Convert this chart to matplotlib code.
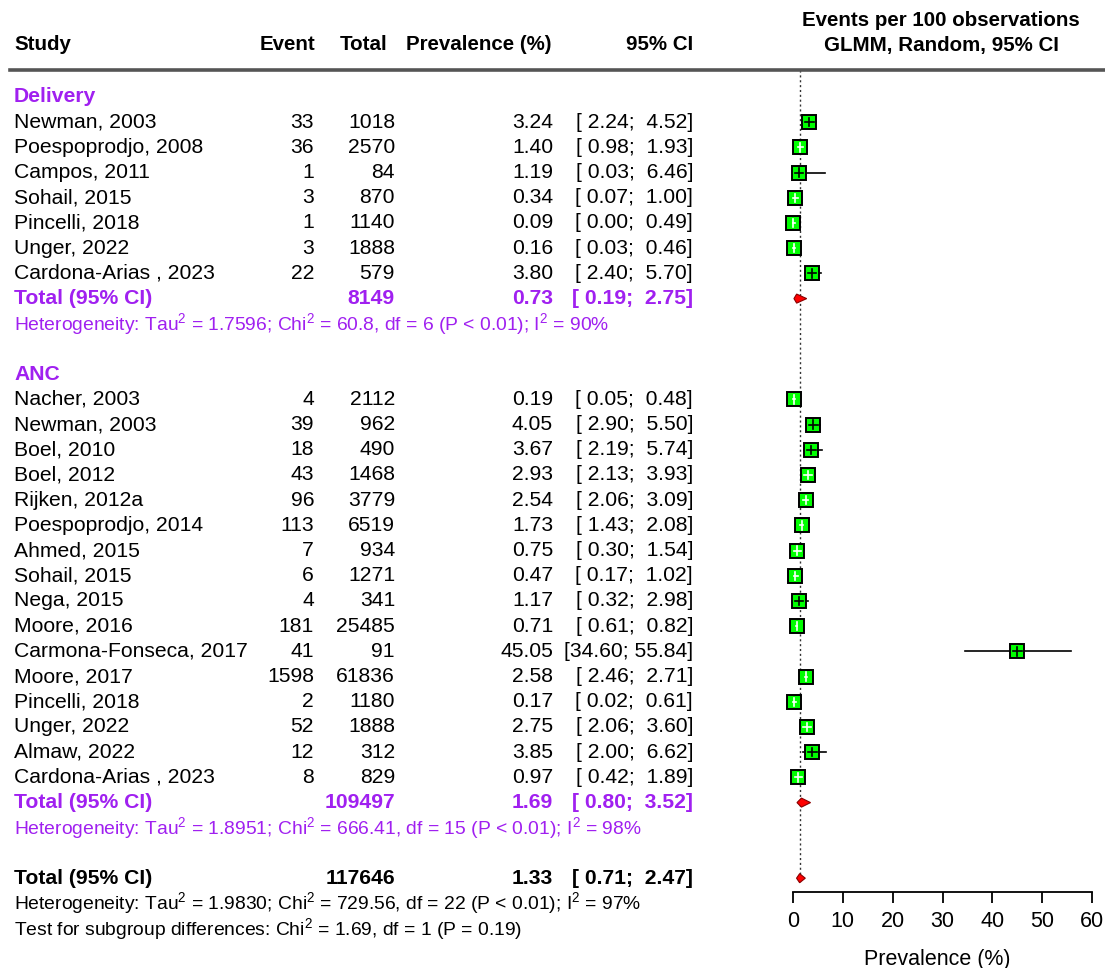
import matplotlib
matplotlib.use("Agg")
import matplotlib.pyplot as plt
import matplotlib.transforms as mtransforms

plt.rcParams['font.family'] = ['Liberation Sans', 'DejaVu Sans']
plt.rcParams['mathtext.default'] = 'regular'

# data
delivery_study = ['Newman, 2003', 'Poespoprodjo, 2008', 'Campos, 2011', 'Sohail, 2015',
                  'Pincelli, 2018', 'Unger, 2022', 'Cardona-Arias , 2023']
delivery_event = [33, 36, 1, 3, 1, 3, 22]
delivery_total = [1018, 2570, 84, 870, 1140, 1888, 579]
delivery_prev = [3.24, 1.40, 1.19, 0.34, 0.09, 0.16, 3.80]
delivery_lo = [2.24, 0.98, 0.03, 0.07, 0.00, 0.03, 2.40]
delivery_hi = [4.52, 1.93, 6.46, 1.00, 0.49, 0.46, 5.70]

anc_study = ['Nacher, 2003', 'Newman, 2003', 'Boel, 2010', 'Boel, 2012', 'Rijken, 2012a',
             'Poespoprodjo, 2014', 'Ahmed, 2015', 'Sohail, 2015', 'Nega, 2015', 'Moore, 2016',
             'Carmona-Fonseca, 2017', 'Moore, 2017', 'Pincelli, 2018', 'Unger, 2022',
             'Almaw, 2022', 'Cardona-Arias , 2023']
anc_event = [4, 39, 18, 43, 96, 113, 7, 6, 4, 181, 41, 1598, 2, 52, 12, 8]
anc_total = [2112, 962, 490, 1468, 3779, 6519, 934, 1271, 341, 25485, 91, 61836, 1180, 1888, 312, 829]
anc_prev = [0.19, 4.05, 3.67, 2.93, 2.54, 1.73, 0.75, 0.47, 1.17, 0.71, 45.05, 2.58, 0.17, 2.75, 3.85, 0.97]
anc_lo = [0.05, 2.90, 2.19, 2.13, 2.06, 1.43, 0.30, 0.17, 0.32, 0.61, 34.60, 2.46, 0.02, 2.06, 2.00, 0.42]
anc_hi = [0.48, 5.50, 5.74, 3.93, 3.09, 2.08, 1.54, 1.02, 2.98, 0.82, 55.84, 2.71, 0.61, 3.60, 6.62, 1.89]

pooled_n = [8149, 109497, 117646]
pooled_prev = [0.73, 1.69, 1.33]
pooled_lo = [0.19, 0.80, 0.71]
pooled_hi = [2.75, 3.52, 2.47]
het_text = [
    'Heterogeneity: Tau$^2$ = 1.7596; Chi$^2$ = 60.8, df = 6 (P < 0.01); I$^2$ = 90%',
    'Heterogeneity: Tau$^2$ = 1.8951; Chi$^2$ = 666.41, df = 15 (P < 0.01); I$^2$ = 98%',
    'Heterogeneity: Tau$^2$ = 1.9830; Chi$^2$ = 729.56, df = 22 (P < 0.01); I$^2$ = 97%',
]
subgroup_text = 'Test for subgroup differences: Chi$^2$ = 1.69, df = 1 (P = 0.19)'

W, H = 1105, 968
PURPLE = '#A020F0'
FS = 15.2
FS_HEAD = 14.8
FS_SMALL = 13.9

fig = plt.figure(figsize=(W / 100, H / 100), dpi=100)

# forest panel: x 0..60 spans pixels 793..1092, rows start at y=97, step 25.2
xl, xr = -4, 62
ppu = (1092 - 793) / 60.0
ax_left = 793 + xl * ppu
ax_right = 793 + xr * ppu
top_px, bot_px = 70, 892
row0, step = 97, 25.2
ax = fig.add_axes([ax_left / W, 1 - bot_px / H, (ax_right - ax_left) / W, (bot_px - top_px) / H])
ax.set_xlim(xl, xr)
ax.set_ylim((bot_px - row0) / step, (top_px - row0) / step)
for s in ['left', 'right', 'top']:
    ax.spines[s].set_visible(False)
ax.spines['bottom'].set_bounds(0, 60)
ax.spines['bottom'].set_linewidth(1.3)
ax.set_yticks([])
ax.set_xticks([0, 10, 20, 30, 40, 50, 60])
ax.tick_params(axis='x', length=8, width=1.3, labelsize=15.5, pad=6)
ax.set_xlabel('Prevalence (%)', fontsize=15.5, labelpad=12)
ax.patch.set_visible(False)

tr = mtransforms.blended_transform_factory(fig.transFigure, ax.transData)


def txt(xpx, row, s, ha='left', **kw):
    kw.setdefault('fontsize', FS)
    fig.text(xpx / W, row, s, ha=ha, va='center', transform=tr, **kw)


def head(xpx, ypx, s, ha):
    fig.text(xpx / W, 1 - ypx / H, s, fontsize=FS_HEAD, fontweight='bold', va='center', ha=ha)


# header
head(14, 45, 'Study', 'left')
head(315, 45, 'Event', 'right')
head(387, 45, 'Total', 'right')
head(552, 45, 'Prevalence (%)', 'right')
head(693, 45, '95% CI', 'right')
head(941, 20, 'Events per 100 observations', 'center')
head(941, 45, 'GLMM, Random, 95% CI', 'center')
fig.add_artist(plt.Line2D([10 / W, 1.0], [1 - 69.5 / H, 1 - 69.5 / H], color='#555555', lw=2.6))

sq_half = 1.1  # half-width of study square in data units


def draw_total(r, gi, color):
    txt(14, r, 'Total (95% CI)', color=color, fontweight='bold')
    txt(395, r, str(pooled_n[gi]), ha='right', color=color, fontweight='bold')
    txt(553, r, f'{pooled_prev[gi]:.2f}', ha='right', color=color, fontweight='bold')
    txt(693, r, f'[{pooled_lo[gi]:5.2f}; {pooled_hi[gi]:5.2f}]', ha='right', color=color,
        fontweight='bold')
    dh = 0.18
    ax.fill([pooled_lo[gi], pooled_prev[gi], pooled_hi[gi], pooled_prev[gi]],
            [r, r - dh, r, r + dh], facecolor='red', edgecolor='#880000', lw=0.8, zorder=3)


def draw_group(label, first_row, study, event, total, prev, lo, hi, gi):
    txt(14, first_row, label, color=PURPLE, fontweight='bold')
    for i in range(len(study)):
        r = first_row + 1 + i
        txt(14, r, study[i])
        txt(314, r, str(event[i]), ha='right')
        txt(395, r, str(total[i]), ha='right')
        txt(553, r, f'{prev[i]:.2f}', ha='right')
        txt(693, r, f'[{lo[i]:5.2f}; {hi[i]:5.2f}]', ha='right')
        ax.plot([lo[i], hi[i]], [r, r], color='black', lw=1.2, zorder=2)
        ax.plot(prev[i], r, marker='s', ms=9.5, mfc='#00FF00', mec='black', mew=1.4, zorder=3)
        # CI inside the square is drawn in white, otherwise black
        inside = (prev[i] - lo[i] < sq_half) and (hi[i] - prev[i] < sq_half)
        c = 'white' if inside else 'black'
        x0 = max(lo[i], prev[i] - sq_half * 0.8)
        x1 = min(hi[i], prev[i] + sq_half * 0.8)
        ax.plot([x0, x1], [r, r], color=c, lw=1.2, zorder=4)
        ax.plot([prev[i], prev[i]], [r - 0.17, r + 0.17], color=c, lw=1.2, zorder=4)
    tr_row = first_row + 1 + len(study)
    draw_total(tr_row, gi, PURPLE)
    txt(14, tr_row + 1, het_text[gi], color=PURPLE, fontsize=FS_SMALL)


draw_group('Delivery', 0, delivery_study, delivery_event, delivery_total,
           delivery_prev, delivery_lo, delivery_hi, 0)
draw_group('ANC', 11, anc_study, anc_event, anc_total, anc_prev, anc_lo, anc_hi, 1)
draw_total(31, 2, 'black')
txt(14, 32, het_text[2], fontsize=FS_SMALL)
txt(14, 33, subgroup_text, fontsize=FS_SMALL)

# reference line at overall estimate
ax.plot([pooled_prev[2], pooled_prev[2]], [(top_px - row0) / step, (882 - row0) / step],
        color='#333333', lw=1.0, ls=(0, (1.5, 2)), zorder=1)

fig.savefig('out.png', dpi=100)
